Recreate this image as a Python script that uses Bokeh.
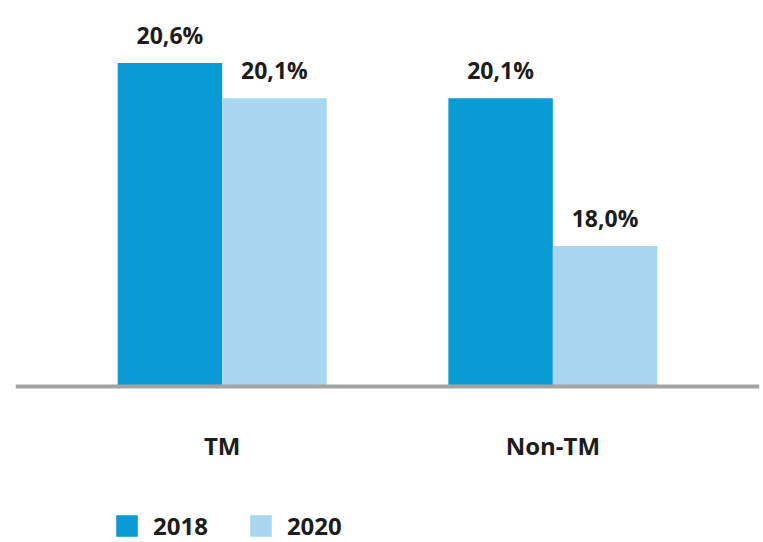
from bokeh.plotting import figure
from bokeh.models import ColumnDataSource, FactorRange, Range1d, Legend, LegendItem, Span
from bokeh.transform import dodge
from bokeh.core.properties import value
from bokeh.embed import file_html
from bokeh.resources import INLINE

categories = ["TM", "Non-TM"]
years = ["2018", "2020"]
values_2018 = [20.6, 20.1]
values_2020 = [20.1, 18.0]
labels_2018 = ["20,6%", "20,1%"]
labels_2020 = ["20,1%", "18,0%"]
axis_base = 16.0

colors = {"2018": "#0a9ad6", "2020": "#a9d7ef"}
FONT = "Open Sans"
TEXT_COLOR = "#1c1c1c"

source = ColumnDataSource(dict(
    cat=categories,
    v2018=values_2018,
    v2020=values_2020,
    l2018=labels_2018,
    l2020=labels_2020,
    base=[axis_base] * len(categories),
))

W, H = 763, 542
baseline_px = 386
px_per_unit = 70.3

x_range = FactorRange(*categories, range_padding=0.125, range_padding_units="absolute")
y_range = Range1d(axis_base - (H - baseline_px) / px_per_unit,
                  axis_base + baseline_px / px_per_unit)

p = figure(width=W, height=H, x_range=x_range, y_range=y_range,
           output_backend="svg", toolbar_location=None,
           x_axis_location=None, y_axis_location=None,
           min_border_left=15, min_border_right=4, min_border_top=0, min_border_bottom=0)
p.outline_line_color = None
p.grid.visible = False
p.background_fill_color = "white"
p.border_fill_color = "white"

bw = 0.316
r1 = p.vbar(x=dodge("cat", -bw / 2, range=x_range), top="v2018", bottom="base", width=bw,
            source=source, fill_color=colors["2018"], line_color=None)
r2 = p.vbar(x=dodge("cat", bw / 2, range=x_range), top="v2020", bottom="base", width=bw,
            source=source, fill_color=colors["2020"], line_color=None)

# baseline (category axis line)
p.add_layout(Span(location=axis_base, dimension="width", line_color="#a3a3a3", line_width=4))

# value labels
for col, lab, off in [("v2018", "l2018", -bw / 2), ("v2020", "l2020", bw / 2)]:
    p.text(x=dodge("cat", off, range=x_range), y=col, text=lab, source=source,
           text_font=value(FONT), text_font_style="bold", text_font_size="23px",
           text_color=TEXT_COLOR, text_align="center", text_baseline="alphabetic",
           y_offset=-28)

# category labels under the baseline
p.text(x="cat", y="base", text="cat", source=source,
       text_font=value(FONT), text_font_style="bold", text_font_size="24px",
       text_color=TEXT_COLOR, text_align="center", text_baseline="alphabetic",
       y_offset=59)

legend = Legend(items=[LegendItem(label=years[0], renderers=[r1]),
                       LegendItem(label=years[1], renderers=[r2])],
                location=(98, 0), orientation="horizontal",
                padding=0, margin=0, spacing=39, label_standoff=13,
                glyph_width=27, glyph_height=27, label_height=23,
                label_text_font=FONT, label_text_font_style="bold",
                label_text_font_size="24px", label_text_color=TEXT_COLOR,
                background_fill_alpha=0, border_line_color=None)
p.add_layout(legend, "center")

open("out.html", "w").write(file_html(p, INLINE))
